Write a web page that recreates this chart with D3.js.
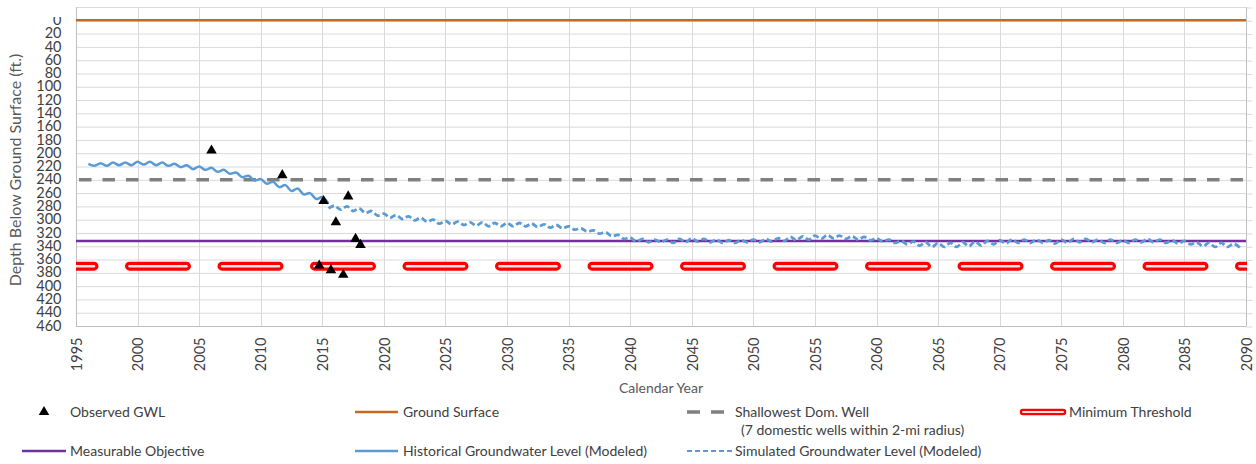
<!DOCTYPE html>
<html>
<head>
<meta charset="utf-8">
<script src="https://cdn.jsdelivr.net/npm/d3@7"></script>
<style>
  html, body { margin: 0; padding: 0; background: #fff; }
  svg { display: block; font-family: Lato, "Liberation Sans", sans-serif; }
</style>
</head>
<body>
<svg id="chart" width="1256" height="464"></svg>
<script>
// ---------------- DATA ----------------
const yearTicks = [1995,2000,2005,2010,2015,2020,2025,2030,2035,2040,2045,2050,2055,2060,2065,2070,2075,2080,2085,2090];
const depthTicks = [0,20,40,60,80,100,120,140,160,180,200,220,240,260,280,300,320,340,360,380,400,420,440,460];

const groundSurface = 0;
const shallowestDomWell = 240;
const measurableObjective = 332;
const minimumThreshold = 370;

// Observed groundwater levels [year, depth ft]
const observedGWL = [
  [2006.0,196],[2011.75,233],[2015.1,272],[2016.1,304],[2017.1,265],
  [2017.7,329],[2018.1,338],[2014.75,369],[2015.7,376],[2016.7,383]
];

// Historical groundwater level (modeled) [year, depth ft]
const historicalGWL = [
  [1996.0,216],[1996.5,219],[1997.0,215],[1997.5,219],[1998.0,214],[1998.5,218],
  [1999.0,214],[1999.5,218],[2000.0,213],[2000.5,217],[2001.0,213],[2001.5,218],
  [2002.0,214],[2002.5,219],[2003.0,216],[2003.5,221],[2004.0,218],[2004.5,224],
  [2005.0,220],[2005.5,225],[2006.0,222],[2006.5,228],[2007.0,225],[2007.5,231],
  [2008.0,229],[2008.5,236],[2009.0,234],[2009.5,241],[2010.0,239],[2010.5,246],
  [2011.0,243],[2011.5,251],[2012.0,248],[2012.5,257],[2013.0,253],[2013.5,262],
  [2014.0,260],[2014.5,269],[2015.0,266],[2015.5,276]
];

// Simulated groundwater level (modeled) [year, depth ft]
const simulatedGWL = [
  [2015.5,283],[2016.0,279],[2016.5,285],[2017.0,280],[2017.5,287],[2018.0,283],
  [2018.5,290],[2019.0,287],[2019.5,294],[2020.0,291],[2020.5,297],[2021.0,293],
  [2021.5,299],[2022.0,295],[2022.5,301],[2023.0,297],[2023.5,303],[2024.0,300],
  [2024.5,306],[2025.0,302],[2025.5,307],[2026.0,303],[2026.5,308],[2027.0,304],
  [2027.5,309],[2028.0,304],[2028.5,310],[2029.0,305],[2029.5,310],[2030.0,305],
  [2030.5,310],[2031.0,305],[2031.5,310],[2032.0,306],[2032.5,311],[2033.0,307],
  [2033.5,312],[2034.0,308],[2034.5,313],[2035.0,310],[2035.5,315],[2036.0,313],
  [2036.5,318],[2037.0,316],[2037.5,321],[2038.0,319],[2038.5,325],[2039.0,323],
  [2039.5,329],[2040.0,327],[2040.5,333],[2041.0,329],[2041.5,334],[2042.0,330],
  [2042.5,334],[2043.0,330],[2043.5,335],[2044.0,329],[2044.5,334],[2045.0,328],
  [2045.5,333],[2046.0,329],[2046.5,334],[2047.0,330],[2047.5,335],[2048.0,331],
  [2048.5,335],[2049.0,331],[2049.5,334],[2050.0,330],[2050.5,334],[2051.0,329],
  [2051.5,333],[2052.0,328],[2052.5,332],[2053.0,326],[2053.5,331],[2054.0,325],
  [2054.5,330],[2055.0,324],[2055.5,329],[2056.0,323],[2056.5,328],[2057.0,324],
  [2057.5,329],[2058.0,325],[2058.5,330],[2059.0,326],[2059.5,331],[2060.0,328],
  [2060.5,333],[2061.0,330],[2061.5,335],[2062.0,332],[2062.5,337],[2063.0,333],
  [2063.5,339],[2064.0,334],[2064.5,341],[2065.0,335],[2065.5,341],[2066.0,335],
  [2066.5,341],[2067.0,334],[2067.5,340],[2068.0,333],[2068.5,339],[2069.0,332],
  [2069.5,337],[2070.0,331],[2070.5,336],[2071.0,330],[2071.5,335],[2072.0,330],
  [2072.5,335],[2073.0,330],[2073.5,335],[2074.0,331],[2074.5,336],[2075.0,330],
  [2075.5,335],[2076.0,329],[2076.5,334],[2077.0,329],[2077.5,334],[2078.0,330],
  [2078.5,335],[2079.0,330],[2079.5,335],[2080.0,331],[2080.5,335],[2081.0,330],
  [2081.5,334],[2082.0,329],[2082.5,334],[2083.0,330],[2083.5,335],[2084.0,331],
  [2084.5,336],[2085.0,332],[2085.5,337],[2086.0,334],[2086.5,340],[2087.0,335],
  [2087.5,341],[2088.0,335],[2088.5,341],[2089.0,336],[2089.5,342]
];

const legendLabels = {
  observed: "Observed GWL",
  ground: "Ground Surface",
  shallow: "Shallowest Dom. Well",
  shallow2: "(7 domestic wells within 2-mi radius)",
  minimum: "Minimum Threshold",
  objective: "Measurable Objective",
  historical: "Historical Groundwater Level (Modeled)",
  simulated: "Simulated Groundwater Level (Modeled)"
};

// ---------------- CHART ----------------
const svg = d3.select("#chart");
const L = 76, R = 1246, T = 7, B = 326;
const x = d3.scaleLinear().domain([1995, 2090]).range([L, R]);
const y = d3.scaleLinear().domain([-20, 460]).range([T, B]);

const C = {
  grid: "#d9d9d9", axis: "#bfbfbf", text: "#404040", title: "#595959",
  ground: "#c5691f", objective: "#7030a0", well: "#808080",
  blue: "#5b9bd5", red: "#ff0000"
};

const defs = svg.append("defs");
defs.append("clipPath").attr("id", "plotClip")
  .append("rect").attr("x", L).attr("y", T).attr("width", R - L + 1).attr("height", B - T);
defs.append("clipPath").attr("id", "labelClip")
  .append("rect").attr("x", 0).attr("y", 17).attr("width", L).attr("height", 330);

// Gridlines
const gy = [-20].concat(depthTicks);
svg.append("g").selectAll("line").data(gy).join("line")
  .attr("x1", L).attr("x2", R).attr("y1", d => y(d) + 0.5).attr("y2", d => y(d) + 0.5)
  .attr("stroke", C.grid).attr("stroke-width", 1);
svg.append("g").selectAll("line").data(yearTicks).join("line")
  .attr("x1", d => Math.round(x(d)) + 0.5).attr("x2", d => Math.round(x(d)) + 0.5)
  .attr("y1", T).attr("y2", B)
  .attr("stroke", C.grid).attr("stroke-width", 1);

// Right axis ticks
const rightAxis = svg.append("g").attr("transform", `translate(${R + 0.5},0.5)`)
  .call(d3.axisRight(y).tickValues(gy).tickSize(6).tickFormat(""));
rightAxis.select(".domain").attr("stroke", C.axis).attr("d", `M0,${T}V${B}`);
rightAxis.selectAll(".tick line").attr("stroke", C.grid);

// Left axis (labels clipped at the top, as in the reference)
const leftAxis = svg.append("g").attr("transform", `translate(${L + 0.5},0)`)
  .attr("clip-path", "url(#labelClip)")
  .call(d3.axisLeft(y).tickValues(depthTicks).tickSize(0).tickPadding(15));
leftAxis.attr("transform", null);
leftAxis.selectAll(".tick").attr("transform", d => `translate(${L + 0.5},${y(d)})`);
leftAxis.select(".domain").attr("stroke", C.axis).attr("d", `M${L + 0.5},${T}V${B}`);
leftAxis.selectAll(".tick text").attr("fill", C.text).style("font-size", "14.5px")
  .style("font-family", "Lato, sans-serif");
svg.append("path").attr("d", `M${L + 0.5},${T}V${B}`).attr("stroke", C.axis).attr("fill", "none");

// Bottom axis
const bottomAxis = svg.append("g").attr("transform", `translate(0,${B + 0.5})`)
  .call(d3.axisBottom(x).tickValues(yearTicks).tickSize(0).tickFormat(d3.format("d")));
bottomAxis.select(".domain").attr("stroke", C.axis).attr("d", `M${L},0H${R}`);
bottomAxis.selectAll(".tick text")
  .attr("transform", "rotate(-90)")
  .attr("text-anchor", "end")
  .attr("x", -11).attr("y", 0).attr("dy", "0.36em")
  .attr("fill", C.text).style("font-size", "14.5px").style("font-family", "Lato, sans-serif");

// Axis titles
svg.append("text").attr("transform", `translate(21,${170}) rotate(-90)`)
  .attr("text-anchor", "middle").attr("fill", C.title)
  .style("font-size", "16px").text("Depth Below Ground Surface  (ft.)");
svg.append("text").attr("x", (L + R) / 2).attr("y", 393)
  .attr("text-anchor", "middle").attr("fill", C.title)
  .style("font-size", "14px").text("Calendar Year");

// Plot series
const plot = svg.append("g").attr("clip-path", "url(#plotClip)");

const hline = (val) => `M${x(1995)},${y(val)}H${x(2090)}`;

plot.append("path").attr("d", hline(groundSurface))
  .attr("stroke", C.ground).attr("stroke-width", 2.5).attr("fill", "none");
plot.append("path").attr("d", hline(measurableObjective))
  .attr("stroke", C.objective).attr("stroke-width", 2.5).attr("fill", "none");
plot.append("path").attr("d", hline(shallowestDomWell))
  .attr("stroke", C.well).attr("stroke-width", 3.5).attr("fill", "none")
  .attr("stroke-dasharray", "12.5 11").attr("stroke-dashoffset", -3);

// Minimum threshold: double red line dashes with rounded caps
plot.append("path").attr("d", hline(minimumThreshold))
  .attr("stroke", C.red).attr("stroke-width", 9).attr("fill", "none")
  .attr("stroke-linecap", "round")
  .attr("stroke-dasharray", "57 35.5").attr("stroke-dashoffset", 39);
plot.append("path").attr("d", hline(minimumThreshold))
  .attr("stroke", "#ffe4e4").attr("stroke-width", 2.6).attr("fill", "none")
  .attr("stroke-linecap", "round")
  .attr("stroke-dasharray", "57 35.5").attr("stroke-dashoffset", 39);

const line = d3.line().x(d => x(d[0])).y(d => y(d[1])).curve(d3.curveCatmullRom.alpha(0.5));

plot.append("path").datum(historicalGWL).attr("d", line)
  .attr("stroke", C.blue).attr("stroke-width", 2.5).attr("fill", "none");
plot.append("path").datum(simulatedGWL).attr("d", line)
  .attr("stroke", C.blue).attr("stroke-width", 2.8).attr("fill", "none")
  .attr("stroke-dasharray", "6 3");

const tri = d3.symbol().type(d3.symbolTriangle).size(48);
svg.append("g").selectAll("path").data(observedGWL).join("path")
  .attr("d", tri).attr("transform", d => `translate(${x(d[0])},${y(d[1])})`)
  .attr("fill", "#000");

// ---------------- LEGEND ----------------
const lg = svg.append("g").style("font-size", "14px").attr("fill", C.text);
const r1 = 412, r2 = 451;
const txt = (xx, yy, s) => lg.append("text").attr("x", xx).attr("y", yy).attr("dy", "0.35em").text(s);

lg.append("path").attr("d", tri).attr("transform", `translate(44,${r1})`).attr("fill", "#000");
txt(70, r1, legendLabels.observed);

lg.append("line").attr("x1", 355).attr("x2", 398).attr("y1", r1).attr("y2", r1)
  .attr("stroke", C.ground).attr("stroke-width", 2.5);
txt(403, r1, legendLabels.ground);

lg.append("line").attr("x1", 687).attr("x2", 724).attr("y1", r1).attr("y2", r1)
  .attr("stroke", C.well).attr("stroke-width", 3.5).attr("stroke-dasharray", "13 11");
txt(735, r1, legendLabels.shallow);
txt(741, 430, legendLabels.shallow2);

lg.append("line").attr("x1", 1023).attr("x2", 1063).attr("y1", r1).attr("y2", r1)
  .attr("stroke", C.red).attr("stroke-width", 6.5).attr("stroke-linecap", "round");
lg.append("line").attr("x1", 1023).attr("x2", 1063).attr("y1", r1).attr("y2", r1)
  .attr("stroke", "#ffe4e4").attr("stroke-width", 2).attr("stroke-linecap", "round");
txt(1069, r1, legendLabels.minimum);

lg.append("line").attr("x1", 22).attr("x2", 66).attr("y1", r2).attr("y2", r2)
  .attr("stroke", C.objective).attr("stroke-width", 2.5);
txt(70, r2, legendLabels.objective);

lg.append("line").attr("x1", 355).attr("x2", 398).attr("y1", r2).attr("y2", r2)
  .attr("stroke", C.blue).attr("stroke-width", 2.5);
txt(403, r2, legendLabels.historical);

lg.append("line").attr("x1", 687).attr("x2", 732).attr("y1", r2).attr("y2", r2)
  .attr("stroke", C.blue).attr("stroke-width", 2.2).attr("stroke-dasharray", "5 3");
txt(735, r2, legendLabels.simulated);
</script>
</body>
</html>
